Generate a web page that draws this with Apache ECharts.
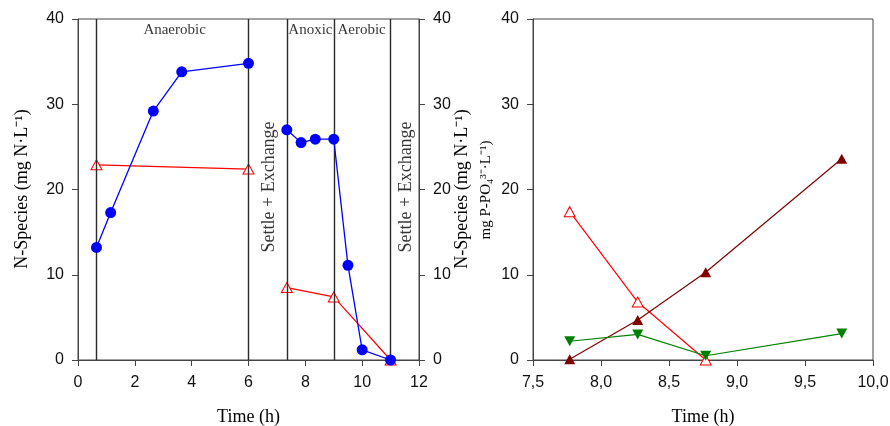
<!DOCTYPE html>
<html>
<head>
<meta charset="utf-8">
<script src="https://cdn.jsdelivr.net/npm/echarts@6/dist/echarts.min.js"></script>
<style>
  html, body { margin: 0; padding: 0; background: #fff; }
  #chart { width: 890px; height: 426px; }
</style>
</head>
<body>
<div id="chart"></div>
<script>
// left panel: full cycle, two segments (before / after settle + exchange)
const nh4TimeA = [0.65, 1.15, 2.65, 3.65, 6.0];
const nh4ValA = [13.2, 17.3, 29.2, 33.8, 34.8];
const nh4TimeB = [7.35, 7.85, 8.35, 9.0, 9.5, 10.0, 11.0];
const nh4ValB = [27.0, 25.5, 25.9, 25.9, 11.1, 1.2, 0];
const noxTimeA = [0.65, 6.0];
const noxValA = [22.9, 22.4];
const noxTimeB = [7.35, 9.0, 11.0];
const noxValB = [8.5, 7.4, 0];
const phaseLines = [0.65, 6.0, 7.35, 9.0, 11.0];

// right panel
const rTime = [7.77, 8.27, 8.77, 9.77];
const rOpen = [17.4, 6.8, 0];
const rDarkRed = [0.1, 4.7, 10.3, 23.6];
const rGreen = [2.2, 3.0, 0.5, 3.1];

const axisCol = '#444';
const tickFont = { fontFamily: 'Liberation Sans', fontSize: 16, color: '#111' };
const serif = 'Liberation Serif';

function pairs(xs, ys) {
  return ys.map((v, i) => [xs[i], v]);
}

let chart = echarts.init(document.getElementById('chart'));

function valueAxis(gridIndex, opts) {
  return Object.assign({
    type: 'value',
    gridIndex: gridIndex,
    axisLine: { show: true, lineStyle: { color: axisCol, width: 1 } },
    axisTick: { show: true, inside: false, length: 6, lineStyle: { color: axisCol } },
    axisLabel: Object.assign({ margin: 14 }, tickFont),
    splitLine: { show: false }
  }, opts);
}

let annotations = [
  { value: [3.4, 38.7], text: 'Anaerobic', rotate: 0, size: 15 },
  { value: [8.18, 38.7], text: 'Anoxic', rotate: 0, size: 15 },
  { value: [9.98, 38.7], text: 'Aerobic', rotate: 0, size: 15 },
  { value: [6.72, 20.3], text: 'Settle + Exchange', rotate: 90, size: 18 },
  { value: [11.54, 20.3], text: 'Settle + Exchange', rotate: 90, size: 18 }
];

let option = {
  animation: false,
  grid: [
    { left: 78, right: 471, top: 19, bottom: 66, show: true, borderColor: axisCol, borderWidth: 1, outerBoundsMode: 'none', containLabel: false },
    { left: 533, right: 17, top: 19, bottom: 66, show: true, borderColor: axisCol, borderWidth: 1, outerBoundsMode: 'none', containLabel: false }
  ],
  xAxis: [
    valueAxis(0, {
      min: 0, max: 12, interval: 2,
      name: 'Time (h)', nameLocation: 'middle', nameGap: 48,
      nameTextStyle: { fontFamily: serif, fontSize: 18, color: '#000' },
      axisLabel: Object.assign({ margin: 15 }, tickFont)
    }),
    valueAxis(1, {
      min: 7.5, max: 10, interval: 0.5,
      name: 'Time (h)', nameLocation: 'middle', nameGap: 48,
      nameTextStyle: { fontFamily: serif, fontSize: 18, color: '#000' },
      axisLabel: Object.assign({ margin: 15, formatter: v => v.toFixed(1).replace('.', ',') }, tickFont)
    })
  ],
  yAxis: [
    valueAxis(0, { min: 0, max: 40, interval: 10, position: 'left' }),
    valueAxis(0, { min: 0, max: 40, interval: 10, position: 'right' }),
    valueAxis(1, { min: 0, max: 40, interval: 10, position: 'left' })
  ],
  graphic: [
    {
      type: 'text', x: 22, y: 189, rotation: Math.PI / 2,
      style: { text: 'N-Species (mg N·L⁻¹)', fontFamily: serif, fontSize: 18, fill: '#000', align: 'center', verticalAlign: 'middle' }
    },
    {
      type: 'text', x: 462, y: 189, rotation: Math.PI / 2,
      style: { text: 'N-Species (mg N·L⁻¹)', fontFamily: serif, fontSize: 18, fill: '#000', align: 'center', verticalAlign: 'middle' }
    },
    {
      type: 'text', x: 486, y: 190, rotation: Math.PI / 2,
      style: { text: 'mg P-PO₄³⁻·L⁻¹)', fontFamily: serif, fontSize: 15, fill: '#000', align: 'center', verticalAlign: 'middle' }
    }
  ],
  series: [
    {
      name: 'NH4 a', type: 'line', xAxisIndex: 0, yAxisIndex: 0,
      data: pairs(nh4TimeA, nh4ValA),
      symbol: 'circle', symbolSize: 11, clip: false,
      lineStyle: { color: '#0000FF', width: 1.3 },
      itemStyle: { color: '#0000FF' },
      markLine: {
        silent: true, symbol: 'none', label: { show: false },
        lineStyle: { color: '#2a2a2a', width: 1.4, type: 'solid' },
        data: phaseLines.map(x => ({ xAxis: x }))
      },
      z: 5
    },
    {
      name: 'NH4 b', type: 'line', xAxisIndex: 0, yAxisIndex: 0,
      data: pairs(nh4TimeB, nh4ValB),
      symbol: 'circle', symbolSize: 11, clip: false,
      lineStyle: { color: '#0000FF', width: 1.3 },
      itemStyle: { color: '#0000FF' },
      z: 5
    },
    {
      name: 'NOx a', type: 'line', xAxisIndex: 0, yAxisIndex: 0,
      data: pairs(noxTimeA, noxValA),
      symbol: 'triangle', symbolSize: [11, 10], clip: false,
      lineStyle: { color: '#FF0000', width: 1.2 },
      itemStyle: { color: '#fff', borderColor: '#FF0000', borderWidth: 1 }
    },
    {
      name: 'NOx b', type: 'line', xAxisIndex: 0, yAxisIndex: 0,
      data: pairs(noxTimeB, noxValB),
      symbol: 'triangle', symbolSize: [11, 10], clip: false,
      lineStyle: { color: '#FF0000', width: 1.2 },
      itemStyle: { color: '#fff', borderColor: '#FF0000', borderWidth: 1 }
    },
    {
      name: 'labels', type: 'scatter', xAxisIndex: 0, yAxisIndex: 0,
      symbolSize: 0, silent: true,
      data: annotations.map(a => ({
        value: a.value,
        label: {
          show: true, position: 'inside', formatter: a.text, rotate: a.rotate,
          fontFamily: serif, fontSize: a.size, color: '#000'
        }
      }))
    },
    {
      name: 'P open', type: 'line', xAxisIndex: 1, yAxisIndex: 2,
      data: pairs(rTime, rOpen),
      symbol: 'triangle', symbolSize: [11, 10], clip: false,
      lineStyle: { color: '#FF0000', width: 1.2 },
      itemStyle: { color: '#fff', borderColor: '#FF0000', borderWidth: 1 }
    },
    {
      name: 'P dark', type: 'line', xAxisIndex: 1, yAxisIndex: 2,
      data: pairs(rTime, rDarkRed),
      symbol: 'triangle', symbolSize: [11, 10], clip: false,
      lineStyle: { color: '#800000', width: 1.2 },
      itemStyle: { color: '#800000' }
    },
    {
      name: 'P green', type: 'line', xAxisIndex: 1, yAxisIndex: 2,
      data: pairs(rTime, rGreen),
      symbol: 'triangle', symbolRotate: 180, symbolSize: [11, 10], clip: false,
      lineStyle: { color: '#008000', width: 1.2 },
      itemStyle: { color: '#008000' }
    }
  ]
};

chart.setOption(option);
</script>
</body>
</html>
